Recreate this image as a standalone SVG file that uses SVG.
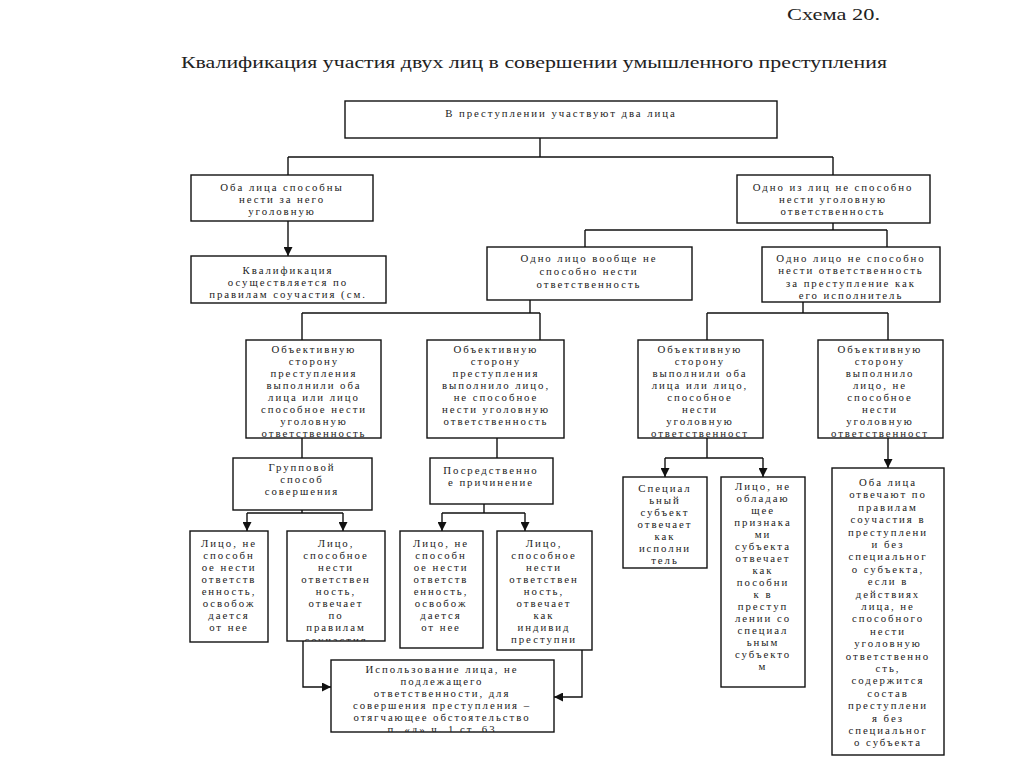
<svg xmlns="http://www.w3.org/2000/svg" width="1024" height="767" viewBox="0 0 1024 767">
<style>
.bx{fill:#fff;stroke:#111;stroke-width:1.4}
.t{font-family:"Liberation Serif","Times New Roman",serif;font-size:10.8px;letter-spacing:1.95px;fill:#222;text-anchor:middle}
.h{font-family:"Liberation Serif","Times New Roman",serif;font-size:17px;fill:#222}
.c{fill:none;stroke:#111;stroke-width:1.4}
</style>
<defs>
<marker id="ar" markerUnits="userSpaceOnUse" markerWidth="9" markerHeight="9" refX="9" refY="4.5" orient="auto">
<path d="M0,0 L9,4.5 L0,9 z" fill="#111"/>
</marker>
<clipPath id="cF"><rect x="287" y="531" width="98" height="110"/></clipPath>
<clipPath id="cG"><rect x="497" y="531" width="95" height="119"/></clipPath>
<clipPath id="cB"><rect x="331" y="660" width="223" height="72"/></clipPath>
</defs>
<rect width="1024" height="767" fill="#fff"/>
<g id="titles">
<text class="h" x="787" y="20" textLength="93" lengthAdjust="spacingAndGlyphs">Схема 20.</text>
<text class="h" x="181" y="68" textLength="706" lengthAdjust="spacingAndGlyphs">Квалификация участия двух лиц в совершении умышленного преступления</text>
</g>
<g id="connectors">
<path class="c" d="M540,138 V157 M288,157 H833 M288,157 V175 M833,157 V175"/>
<path class="c" d="M288,221 V256" marker-end="url(#ar)"/>
<path class="c" d="M833,223 V230 M585,230 H887 M585,230 V247 M887,230 V247"/>
<path class="c" d="M530,300 V313 M302,313 H540 M302,313 V340 M540,313 V340"/>
<path class="c" d="M803,302 V313 M707,313 H888 M707,313 V340 M888,313 V340"/>
<path class="c" d="M302,438 V458 M497,438 V458"/>
<path class="c" d="M707,438 V458 M665,458 H763"/>
<path class="c" d="M665,458 V477" marker-end="url(#ar)"/>
<path class="c" d="M763,458 V477" marker-end="url(#ar)"/>
<path class="c" d="M888,438 V468" marker-end="url(#ar)"/>
<path class="c" d="M302,510 V513 M247,513 H343"/>
<path class="c" d="M247,513 V531" marker-end="url(#ar)"/>
<path class="c" d="M343,513 V531" marker-end="url(#ar)"/>
<path class="c" d="M484,504 V513 M442,513 H525"/>
<path class="c" d="M442,513 V531" marker-end="url(#ar)"/>
<path class="c" d="M525,513 V531" marker-end="url(#ar)"/>
<path class="c" d="M303,641 V687 H331" marker-end="url(#ar)"/>
<path class="c" d="M582,650 V697 H554" marker-end="url(#ar)"/>
</g>
<g id="n-top">
<rect class="bx" x="345" y="101" width="432" height="37"/>
<text class="t" x="561" y="117">В преступлении участвуют два лица</text>
</g>
<g id="n-both-capable">
<rect class="bx" x="191" y="175" width="182" height="46"/>
<text class="t"><tspan x="282" y="191">Оба лица способны</tspan><tspan x="282" y="203">нести за него</tspan><tspan x="282" y="215">уголовную</tspan></text>
</g>
<g id="n-one-incapable">
<rect class="bx" x="737" y="175" width="193" height="48"/>
<text class="t"><tspan x="833" y="191">Одно из лиц не способно</tspan><tspan x="833" y="203">нести уголовную</tspan><tspan x="833" y="215">ответственность</tspan></text>
</g>
<g id="n-qualification">
<rect class="bx" x="191" y="256" width="195" height="47"/>
<text class="t"><tspan x="288" y="274">Квалификация</tspan><tspan x="288" y="286">осуществляется по</tspan><tspan x="288" y="298">правилам соучастия (см.</tspan></text>
</g>
<g id="n-not-at-all">
<rect class="bx" x="487" y="247" width="205" height="53"/>
<text class="t"><tspan x="589" y="262">Одно лицо вообще не</tspan><tspan x="589" y="275">способно нести</tspan><tspan x="589" y="288">ответственность</tspan></text>
</g>
<g id="n-not-as-perpetrator">
<rect class="bx" x="762" y="247" width="178" height="55"/>
<text class="t"><tspan x="851" y="262">Одно лицо не способно</tspan><tspan x="851" y="274">нести ответственность</tspan><tspan x="851" y="287">за преступление как</tspan><tspan x="851" y="299">его исполнитель</tspan></text>
</g>
<g id="n-a">
<rect class="bx" x="246" y="340" width="135" height="98"/>
<text class="t"><tspan x="314" y="353">Объективную</tspan><tspan x="314" y="365">сторону</tspan><tspan x="314" y="377">преступления</tspan><tspan x="314" y="389">выполнили оба</tspan><tspan x="314" y="401">лица или лицо</tspan><tspan x="314" y="413">способное нести</tspan><tspan x="314" y="425">уголовную</tspan><tspan x="314" y="437">ответственность</tspan></text>
</g>
<g id="n-b">
<rect class="bx" x="427" y="340" width="137" height="98"/>
<text class="t"><tspan x="496" y="353">Объективную</tspan><tspan x="496" y="365">сторону</tspan><tspan x="496" y="377">преступления</tspan><tspan x="496" y="389">выполнило лицо,</tspan><tspan x="496" y="401">не способное</tspan><tspan x="496" y="413">нести уголовную</tspan><tspan x="496" y="425">ответственность</tspan></text>
</g>
<g id="n-c">
<rect class="bx" x="638" y="340" width="125" height="98"/>
<text class="t"><tspan x="700" y="353">Объективную</tspan><tspan x="700" y="365">сторону</tspan><tspan x="700" y="377">выполнили оба</tspan><tspan x="700" y="389">лица или лицо,</tspan><tspan x="700" y="401">способное</tspan><tspan x="700" y="413">нести</tspan><tspan x="700" y="425">уголовную</tspan><tspan x="700" y="437">ответственност</tspan></text>
</g>
<g id="n-d">
<rect class="bx" x="818" y="340" width="125" height="98"/>
<text class="t"><tspan x="880" y="353">Объективную</tspan><tspan x="880" y="365">сторону</tspan><tspan x="880" y="377">выполнило</tspan><tspan x="880" y="389">лицо, не</tspan><tspan x="880" y="401">способное</tspan><tspan x="880" y="413">нести</tspan><tspan x="880" y="425">уголовную</tspan><tspan x="880" y="437">ответственност</tspan></text>
</g>
<g id="n-group">
<rect class="bx" x="233" y="458" width="139" height="52"/>
<text class="t"><tspan x="302" y="471">Групповой</tspan><tspan x="302" y="483">способ</tspan><tspan x="302" y="495">совершения</tspan></text>
</g>
<g id="n-mediate">
<rect class="bx" x="430" y="458" width="123" height="46"/>
<text class="t"><tspan x="491" y="474">Посредственно</tspan><tspan x="491" y="486">е причинение</tspan></text>
</g>
<g id="n-e">
<rect class="bx" x="190" y="531" width="78" height="111"/>
<text class="t"><tspan x="229" y="547">Лицо, не</tspan><tspan x="229" y="559">способн</tspan><tspan x="229" y="571">ое нести</tspan><tspan x="229" y="583">ответств</tspan><tspan x="229" y="595">енность,</tspan><tspan x="229" y="607">освобож</tspan><tspan x="229" y="619">дается</tspan><tspan x="229" y="631">от нее</tspan></text>
</g>
<g id="n-f">
<rect class="bx" x="287" y="531" width="98" height="110"/>
<text class="t" clip-path="url(#cF)"><tspan x="336" y="547">Лицо,</tspan><tspan x="336" y="559">способное</tspan><tspan x="336" y="571">нести</tspan><tspan x="336" y="583">ответствен</tspan><tspan x="336" y="595">ность,</tspan><tspan x="336" y="607">отвечает</tspan><tspan x="336" y="619">по</tspan><tspan x="336" y="631">правилам</tspan><tspan x="336" y="644">соучастия</tspan></text>
</g>
<g id="n-h">
<rect class="bx" x="400" y="531" width="83" height="117"/>
<text class="t"><tspan x="441" y="547">Лицо, не</tspan><tspan x="441" y="559">способн</tspan><tspan x="441" y="571">ое нести</tspan><tspan x="441" y="583">ответств</tspan><tspan x="441" y="595">енность,</tspan><tspan x="441" y="607">освобож</tspan><tspan x="441" y="619">дается</tspan><tspan x="441" y="631">от нее</tspan></text>
</g>
<g id="n-g">
<rect class="bx" x="497" y="531" width="95" height="119"/>
<text class="t" clip-path="url(#cG)"><tspan x="544" y="547">Лицо,</tspan><tspan x="544" y="559">способное</tspan><tspan x="544" y="571">нести</tspan><tspan x="544" y="583">ответствен</tspan><tspan x="544" y="595">ность,</tspan><tspan x="544" y="607">отвечает</tspan><tspan x="544" y="619">как</tspan><tspan x="544" y="631">индивид</tspan><tspan x="544" y="643">преступни</tspan><tspan x="544" y="655">к</tspan></text>
</g>
<g id="n-i">
<rect class="bx" x="623" y="477" width="84" height="91"/>
<text class="t"><tspan x="665" y="492">Специал</tspan><tspan x="665" y="504">ьный</tspan><tspan x="665" y="516">субъект</tspan><tspan x="665" y="528">отвечает</tspan><tspan x="665" y="540">как</tspan><tspan x="665" y="552">исполни</tspan><tspan x="665" y="564">тель</tspan></text>
</g>
<g id="n-j">
<rect class="bx" x="721" y="477" width="84" height="210"/>
<text class="t"><tspan x="763" y="490">Лицо, не</tspan><tspan x="763" y="502">обладаю</tspan><tspan x="763" y="514">щее</tspan><tspan x="763" y="526">признака</tspan><tspan x="763" y="538">ми</tspan><tspan x="763" y="550">субъекта</tspan><tspan x="763" y="562">отвечает</tspan><tspan x="763" y="574">как</tspan><tspan x="763" y="586">пособни</tspan><tspan x="763" y="598">к в</tspan><tspan x="763" y="610">преступ</tspan><tspan x="763" y="622">лении со</tspan><tspan x="763" y="634">специал</tspan><tspan x="763" y="646">ьным</tspan><tspan x="763" y="658">субъекто</tspan><tspan x="763" y="670">м</tspan></text>
</g>
<g id="n-k">
<rect class="bx" x="832" y="468" width="112" height="287"/>
<text class="t"><tspan x="888" y="486">Оба лица</tspan><tspan x="888" y="498">отвечают по</tspan><tspan x="888" y="511">правилам</tspan><tspan x="888" y="523">соучастия в</tspan><tspan x="888" y="536">преступлени</tspan><tspan x="888" y="548">и без</tspan><tspan x="888" y="560">специальног</tspan><tspan x="888" y="573">о субъекта,</tspan><tspan x="888" y="585">если в</tspan><tspan x="888" y="598">действиях</tspan><tspan x="888" y="610">лица, не</tspan><tspan x="888" y="622">способного</tspan><tspan x="888" y="635">нести</tspan><tspan x="888" y="647">уголовную</tspan><tspan x="888" y="660">ответственно</tspan><tspan x="888" y="672">сть,</tspan><tspan x="888" y="684">содержится</tspan><tspan x="888" y="697">состав</tspan><tspan x="888" y="709">преступлени</tspan><tspan x="888" y="722">я без</tspan><tspan x="888" y="734">специальног</tspan><tspan x="888" y="746">о субъекта</tspan></text>
</g>
<g id="n-bottom">
<rect class="bx" x="331" y="660" width="223" height="72"/>
<text class="t" clip-path="url(#cB)"><tspan x="442" y="673">Использование лица, не</tspan><tspan x="442" y="685">подлежащего</tspan><tspan x="442" y="697">ответственности, для</tspan><tspan x="442" y="709">совершения преступления –</tspan><tspan x="442" y="721">отягчающее обстоятельство</tspan><tspan x="442" y="733">п. «д» ч. 1 ст. 63</tspan></text>
</g>
</svg>
